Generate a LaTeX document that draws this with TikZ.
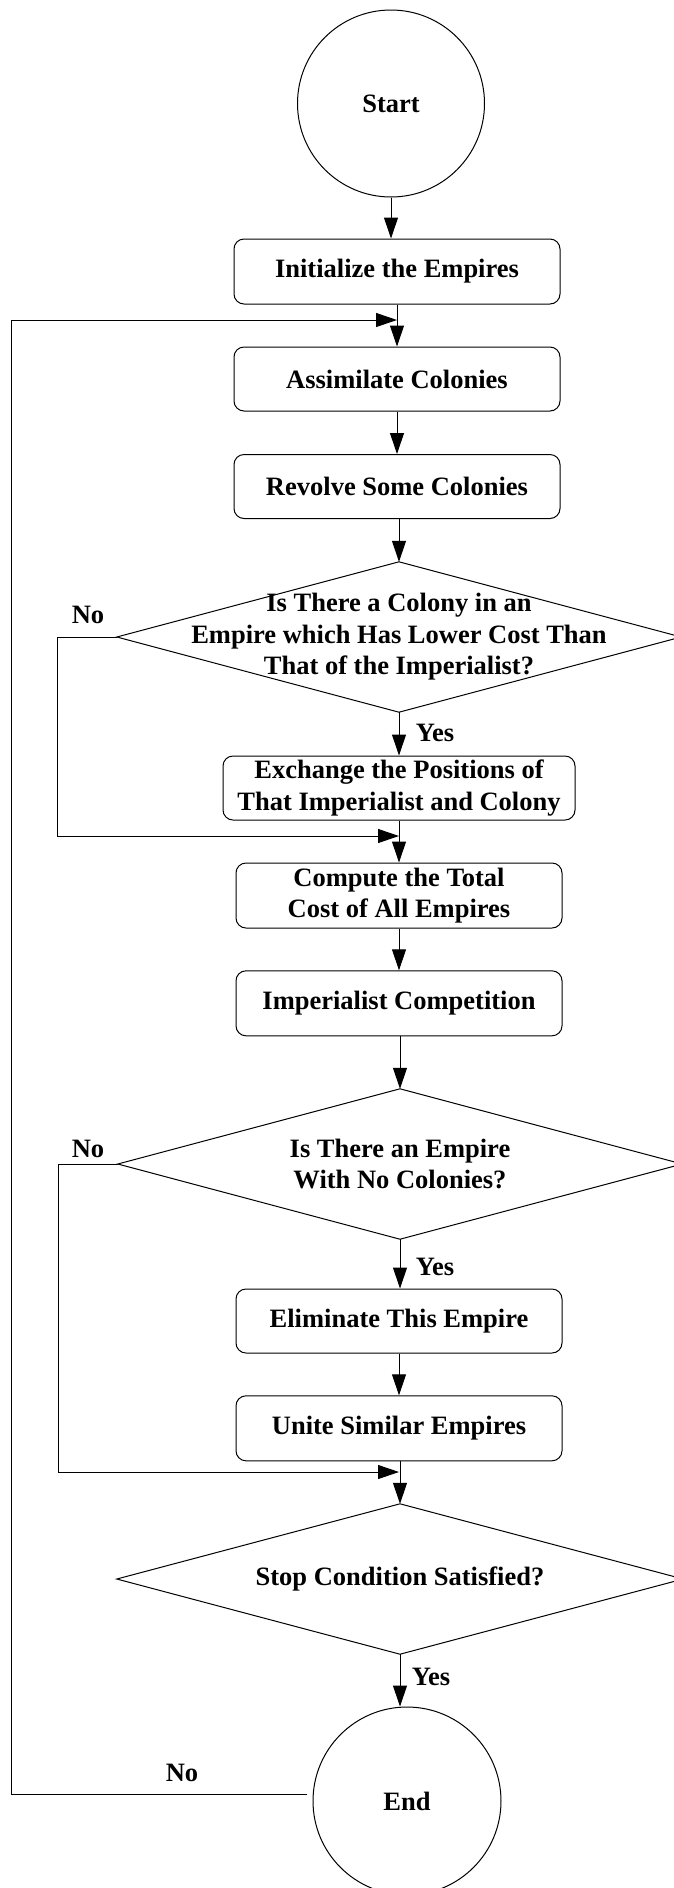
\documentclass[tikz,border=0pt]{standalone}
\usepackage{fontspec}
\setmainfont{Liberation Serif}
\usetikzlibrary{arrows.meta,calc}
\begin{document}
\begin{tikzpicture}[x=1pt,y=-1pt,
  every node/.style={font=\fontsize{26.5}{31.5}\selectfont\bfseries},
  proc/.style={draw, rounded corners=10pt, line width=1pt, minimum width=326pt,
               minimum height=65pt, align=center, inner sep=2pt},
  term/.style={draw, circle, line width=1pt, minimum size=187pt, inner sep=0pt},
  decide/.style={minimum width=564pt, minimum height=150pt, align=center, inner sep=0pt},
  arr/.style={line width=1pt, -{Triangle[length=21pt,width=14pt]}},
  edge/.style={line width=1pt},
  lbl/.style={inner sep=0pt}]
\useasboundingbox (0,0) rectangle (674,1888);

% steps of the algorithm
\node[term] (start) at (391,103.5) {Start};
\node[proc] (init) at (397,271.5) {Initialize the Empires};
\node[proc, minimum height=64pt] (assim) at (397,379) {Assimilate Colonies};
\node[proc, minimum height=64pt] (revolve) at (397,486.5) {Revolve Some Colonies};
\node[decide] (d1) at (399,637) {Is There a Colony in an\\Empire which Has Lower Cost Than\\That of the Imperialist?};
\draw[edge] (d1.north) -- (d1.east) -- (d1.south) -- (d1.west) -- cycle;
\node[proc, minimum width=352pt, minimum height=64pt] (exch) at (399,788) {Exchange the Positions of\\That Imperialist and Colony};
\node[proc] (comp) at (399,895.5) {Compute the Total\\Cost of All Empires};
\node[proc] (imp) at (399,1003.3) {Imperialist Competition};
\node[decide] (d2) at (400,1164) {Is There an Empire\\With No Colonies?};
\draw[edge] (d2.north) -- (d2.east) -- (d2.south) -- (d2.west) -- cycle;
\node[proc, minimum height=64pt] (elim) at (399,1321) {Eliminate This Empire};
\node[proc] (unite) at (399,1428.3) {Unite Similar Empires};
\node[decide, minimum width=566pt] (d3) at (400,1579) {Stop Condition Satisfied?};
\draw[edge] (d3.north) -- (d3.east) -- (d3.south) -- (d3.west) -- cycle;
\node[term, minimum size=188pt] (end) at (407,1801) {End};

% junction points of the loops
\coordinate (m1) at (397,320);
\coordinate (m2) at (399,836);
\coordinate (m3) at (399,1472);
\coordinate (fb) at (307,1794);

% main flow
\draw[arr] (start.south) -- (start.south |- init.north);
\draw[arr] (init.south) -- (assim.north);
\draw[arr] (assim.south) -- (revolve.north);
\draw[arr] (revolve.south -| d1.north) -- (d1.north);
\draw[arr] (d1.south) -- (d1.south |- exch.north);
\draw[arr] (exch.south) -- (comp.north);
\draw[arr] (comp.south) -- (imp.north);
\draw[arr] (imp.south -| d2.north) -- (d2.north);
\draw[arr] (d2.south) -- (d2.south |- elim.north);
\draw[arr] (elim.south) -- (unite.north);
\draw[arr] (unite.south -| d3.north) -- (d3.north);
\draw[arr] (d3.south) -- (d3.south |- end.north);

% branches and the outer loop
\draw[arr] (d1.west) -- ++(-59,0) |- (m2);
\draw[arr] (d2.west) -- ++(-59,0) |- (m3);
\draw[arr] (fb) -- ++(-295.4,0) |- (m1);

% branch labels
\node[lbl] (no1) at (88,615) {No};
\node[lbl] (yes1) at (435,733) {Yes};
\node[lbl] (no2) at (88,1149) {No};
\node[lbl] (yes2) at (435,1267) {Yes};
\node[lbl] (yes3) at (431,1677) {Yes};
\node[lbl] (no3) at (182,1773) {No};
\end{tikzpicture}
\end{document}
